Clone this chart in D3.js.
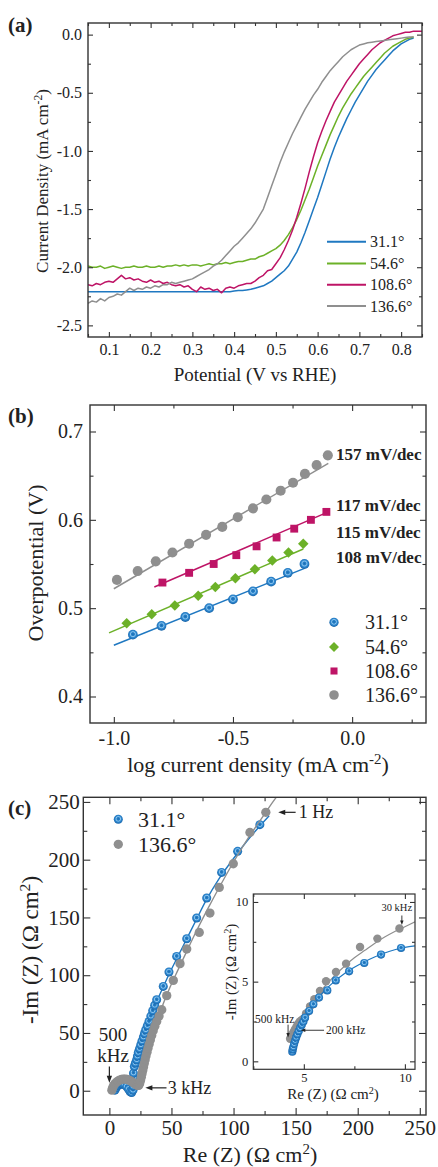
<!DOCTYPE html>
<html><head><meta charset="utf-8">
<script src="https://cdn.jsdelivr.net/npm/d3@7"></script>
<style>
body{margin:0;background:#fff}
svg{display:block}
text{font-family:"Liberation Serif","Times New Roman",Times,serif;fill:#222}
</style>
</head><body>
<svg id="c" width="438" height="1167"></svg>
<script>
// ---------------- DATA ----------------
const seriesNames = ["31.1°", "54.6°", "108.6°", "136.6°"];
const seriesColors = ["#1f78c1", "#6cb128", "#be1466", "#8f8f8f"];

// (a) LSV curves: potential (V vs RHE) and current density (mA cm-2)
const potential = [0.05,0.06,0.07,0.08,0.09,0.10,0.11,0.12,0.13,0.14,0.15,0.16,0.17,0.18,0.19,0.20,0.21,0.22,0.23,0.24,0.25,0.26,0.27,0.28,0.29,0.30,0.31,0.32,0.33,0.34,0.35,0.36,0.37,0.38,0.39,0.40,0.41,0.42,0.43,0.44,0.45,0.46,0.47,0.48,0.49,0.50,0.51,0.52,0.53,0.54,0.55,0.56,0.57,0.58,0.59,0.60,0.61,0.62,0.63,0.64,0.65,0.66,0.67,0.68,0.69,0.70,0.71,0.72,0.73,0.74,0.75,0.76,0.77,0.78,0.79,0.80,0.81,0.82,0.83,0.84,0.85];
const j31 = [-2.21,-2.21,-2.21,-2.21,-2.21,-2.21,-2.21,-2.21,-2.21,-2.21,-2.21,-2.21,-2.21,-2.21,-2.21,-2.21,-2.21,-2.21,-2.21,-2.21,-2.21,-2.21,-2.21,-2.21,-2.21,-2.21,-2.21,-2.21,-2.21,-2.21,-2.21,-2.21,-2.21,-2.21,-2.21,-2.205,-2.20,-2.20,-2.195,-2.19,-2.18,-2.17,-2.16,-2.14,-2.12,-2.09,-2.06,-2.03,-1.99,-1.93,-1.87,-1.79,-1.70,-1.60,-1.50,-1.40,-1.29,-1.18,-1.07,-0.97,-0.88,-0.80,-0.72,-0.65,-0.58,-0.52,-0.46,-0.40,-0.35,-0.30,-0.26,-0.22,-0.18,-0.14,-0.11,-0.08,-0.06,-0.04,-0.03];
const j54 = [-1.99,-2.00,-2.00,-1.99,-2.01,-2.00,-1.99,-2.00,-2.01,-2.00,-2.00,-1.99,-2.00,-2.00,-1.99,-2.00,-2.00,-1.99,-2.00,-1.99,-1.99,-1.98,-1.99,-1.98,-1.99,-1.98,-1.98,-1.99,-1.98,-1.97,-1.98,-1.97,-1.97,-1.96,-1.97,-1.96,-1.95,-1.95,-1.94,-1.93,-1.93,-1.91,-1.90,-1.88,-1.86,-1.84,-1.81,-1.77,-1.72,-1.66,-1.59,-1.51,-1.42,-1.33,-1.23,-1.13,-1.04,-0.95,-0.86,-0.78,-0.70,-0.63,-0.57,-0.51,-0.46,-0.41,-0.36,-0.32,-0.28,-0.24,-0.20,-0.16,-0.13,-0.10,-0.08,-0.06,-0.04,-0.03,-0.02];
const j108 = [-2.15,-2.16,-2.14,-2.15,-2.13,-2.12,-2.13,-2.10,-2.07,-2.10,-2.09,-2.11,-2.10,-2.12,-2.13,-2.11,-2.13,-2.12,-2.14,-2.13,-2.15,-2.16,-2.15,-2.17,-2.16,-2.19,-2.21,-2.17,-2.19,-2.18,-2.20,-2.19,-2.22,-2.18,-2.17,-2.18,-2.16,-2.15,-2.14,-2.14,-2.12,-2.09,-2.07,-2.03,-2.02,-1.97,-1.92,-1.85,-1.77,-1.68,-1.57,-1.45,-1.32,-1.18,-1.05,-0.93,-0.83,-0.74,-0.66,-0.58,-0.52,-0.46,-0.40,-0.35,-0.30,-0.25,-0.21,-0.17,-0.13,-0.10,-0.07,-0.05,-0.03,-0.01,0.00,0.01,0.02,0.02,0.03,0.03,0.03];
const j136 = [-2.31,-2.29,-2.30,-2.27,-2.29,-2.26,-2.25,-2.23,-2.24,-2.21,-2.18,-2.20,-2.18,-2.19,-2.17,-2.18,-2.16,-2.17,-2.15,-2.15,-2.13,-2.14,-2.13,-2.12,-2.11,-2.10,-2.08,-2.06,-2.04,-2.02,-1.99,-1.97,-1.94,-1.90,-1.86,-1.82,-1.79,-1.75,-1.71,-1.67,-1.62,-1.56,-1.50,-1.40,-1.30,-1.20,-1.10,-1.01,-0.93,-0.85,-0.78,-0.71,-0.64,-0.58,-0.52,-0.47,-0.41,-0.36,-0.31,-0.27,-0.23,-0.19,-0.16,-0.13,-0.11,-0.09,-0.08,-0.07,-0.065,-0.06,-0.055,-0.05,-0.045,-0.04,-0.035,-0.03,-0.025,-0.02,-0.02];

// (b) Tafel data: log current density, overpotential
const tafelX31 = [-0.92,-0.80,-0.70,-0.60,-0.50,-0.416,-0.34,-0.27,-0.20];
const tafelY31 = [0.470,0.480,0.490,0.500,0.510,0.519,0.530,0.540,0.550];
const tafelX54 = [-0.946,-0.841,-0.744,-0.646,-0.574,-0.49,-0.408,-0.335,-0.267,-0.205];
const tafelY54 = [0.483,0.493,0.503,0.514,0.524,0.534,0.544,0.554,0.563,0.573];
const tafelX108 = [-0.796,-0.684,-0.581,-0.486,-0.401,-0.317,-0.243,-0.173,-0.108];
const tafelY108 = [0.529,0.540,0.550,0.560,0.570,0.580,0.590,0.600,0.609];
const tafelX136 = [-0.987,-0.90,-0.824,-0.754,-0.684,-0.613,-0.545,-0.480,-0.416,-0.360,-0.300,-0.248,-0.198,-0.149,-0.102];
const tafelY136 = [0.532,0.542,0.553,0.563,0.573,0.583,0.592,0.603,0.613,0.623,0.633,0.642,0.652,0.662,0.673];
const fit31 = [[-1.0,0.458],[-0.2,0.545]];
const fit54 = [[-1.02,0.472],[-0.205,0.567]];
const fit108 = [[-0.83,0.524],[-0.1,0.609]];
const fit136 = [[-1.0,0.522],[-0.1,0.664]];
const slopeLabels = ["108 mV/dec","115 mV/dec","117 mV/dec","157 mV/dec"];

// (c) Nyquist data [Re, -Im]
const nyq31 = [[4.5,0.5],[5.5,2.8],[7,4.5],[8.7,5.5],[10.5,5.8],[12.3,5.2],[14,3.5],[15.5,1.2],[16.8,-1],[18,-1.5],[19,0.5],[19.3,4],[19.4,8],[19.4,11.5],[19.4,15.3],[20.1,21],[21,24],[22,26.8],[22.6,30],[23.3,33.2],[24.3,36.5],[25.3,39.8],[26.3,43.2],[27.4,46.5],[28.3,49.6],[29.3,52.8],[30.6,56.4],[31.9,60],[33.4,64.6],[34.9,69.3],[36.5,74],[38.1,78.8],[43.4,90.3],[48,102.8],[54.2,116.3],[62.3,131.6],[70.3,149.5],[78.4,166.8],[90.4,189],[103.3,207.2],[121.2,230.3]];
const nyq136 = [[2,0.5],[2.6,2.6],[3.4,4.4],[4.4,6],[5.6,7.3],[6.9,8.4],[8.3,9.2],[9.8,9.8],[11.3,10.1],[12.8,10.1],[14.3,9.8],[15.8,9.2],[17.3,8.4],[18.7,7.4],[20.1,6.3],[21.4,5.3],[22.6,4.6],[23.6,4.6],[24.4,6.2],[25.1,8.8],[25.7,11.6],[26.3,14.6],[26.9,17.6],[27.5,20.6],[28.1,23.6],[28.8,26.8],[29.5,30],[30.3,33.4],[31.1,36.8],[32,40.3],[33,44],[34.1,47.9],[35.3,51.9],[36.6,55.9],[38.1,60],[40,64.6],[42.2,70.1],[46.2,82.3],[51.5,95.5],[56.9,110],[62.3,122.7],[72.4,137],[81,153.8],[88.5,176],[99.8,196.5],[113.2,223.6],[126,241]];
const nyqFit31 = [[4.3,0],[5.5,2.8],[7,4.5],[8.7,5.4],[10.5,5.7],[12.3,5.1],[14,3.5],[15.5,1.2],[16.8,-0.8],[18,-0.5],[18.8,2.5],[19.3,8],[19.8,15],[20.8,22],[22.3,29],[24.3,37],[26.8,46],[29.8,55],[33.3,65],[38,77],[43,89],[49,103],[56,118],[63,133],[70,148],[78,165],[88,183],[100,201],[113,219],[128.7,238]];
const nyqFit136 = [[2,0],[3,3.5],[5,6.6],[8,8.9],[11,9.9],[14,9.7],[17,8.4],[20,6.4],[22.5,4.8],[24,5.2],[25,8],[26,12.5],[27.5,19],[29,25.5],[31,34],[33.5,43.5],[36.5,54],[40,65],[44,77],[49,90],[55,104],[62,120],[70,138],[79,157],[89,177],[100,198],[112,219],[124,238],[133,252],[136,256]];
// inset (zoom of high-frequency region)
const ins31 = [[4.43,0.6],[4.45,0.75],[4.48,0.9],[4.52,1.1],[4.57,1.3],[4.62,1.5],[4.68,1.7],[4.75,1.9],[4.82,2.1],[4.9,2.3],[4.98,2.5],[5.06,2.74],[5.26,3.16],[5.47,3.58],[5.75,4.0],[6.16,4.45],[6.58,5.08],[7.24,5.65],[7.99,6.17],[8.82,6.70],[9.81,7.11]];
const ins136 = [[4.32,1.42],[4.38,1.58],[4.44,1.72],[4.5,1.86],[4.56,2.0],[4.62,2.13],[4.68,2.26],[4.75,2.4],[4.82,2.52],[4.9,2.6],[4.98,2.68],[5.11,3.0],[5.31,3.45],[5.52,3.89],[5.8,4.41],[6.1,5.02],[6.59,5.61],[7.09,6.13],[7.78,7.17],[8.64,7.70],[9.73,8.33]];
const insFit31 = [[4.4,0.55],[4.7,1.6],[5.0,2.5],[5.5,3.6],[6.0,4.4],[6.5,5.0],[7.0,5.5],[7.5,5.9],[8.0,6.25],[8.5,6.55],[9.0,6.8],[9.5,7.0],[10.0,7.15],[10.5,7.25]];
const insFit136 = [[4.3,1.3],[4.6,2.1],[5.0,2.9],[5.5,3.85],[6.0,4.65],[6.5,5.35],[7.0,5.95],[7.5,6.5],[8.0,6.95],[8.5,7.4],[9.0,7.8],[9.5,8.15],[10.0,8.45],[10.5,8.75]];

// ticks
const aXMajor=[0.1,0.2,0.3,0.4,0.5,0.6,0.7,0.8], aXMinor=[0.05,0.15,0.25,0.35,0.45,0.55,0.65,0.75,0.85];
const aYMajor=[0,-0.5,-1.0,-1.5,-2.0,-2.5], aYMinor=[-0.25,-0.75,-1.25,-1.75,-2.25];
const bXMajor=[-1.0,-0.5,0.0], bXMinor=[-0.75,-0.25,0.25];
const bYMajor=[0.4,0.5,0.6,0.7], bYMinor=[0.45,0.55,0.65];
const cXMajor=[0,50,100,150,200,250], cXMinor=[25,75,125,175,225];
const cYMajor=[0,50,100,150,200,250], cYMinor=[25,75,125,175,225];
const iXMajor=[5,10], iXMinor=[2.5,7.5];
const iYMajor=[0,5,10], iYMinor=[2.5,7.5];

// ---------------- DRAW ----------------
const svg = d3.select("#c");
const defs = svg.append("defs");
const grad = defs.append("radialGradient").attr("id","sph").attr("cx","0.5").attr("cy","0.45").attr("r","0.55");
grad.append("stop").attr("offset","0").attr("stop-color","#1a6cb2");
grad.append("stop").attr("offset","0.3").attr("stop-color","#2a82c8");
grad.append("stop").attr("offset","0.45").attr("stop-color","#8ec5ee");
grad.append("stop").attr("offset","0.62").attr("stop-color","#2f8ad2");
grad.append("stop").attr("offset","1").attr("stop-color","#1762a6");

function frame(xs, ys, o) {
  const [x0,x1] = xs.range(), [y0,y1] = ys.range();
  const g = svg.append("g");
  const style = (sel, labels) => {
    sel.select(".domain").remove();
    sel.attr("font-family",null).attr("font-size",null).attr("color","#333");
    sel.selectAll("line").attr("stroke-width",1.1);
    if (labels) sel.selectAll("text").style("font-size",o.fs+"px").attr("fill","#222");
  };
  const fmt = o.fmt || (d=>d);
  g.append("g").attr("transform",`translate(0,${y0})`).call(d3.axisBottom(xs).tickValues(o.xMajor).tickSize(-o.L).tickPadding(o.xpad).tickFormat(fmt)).call(s=>style(s,true));
  g.append("g").attr("transform",`translate(0,${y0})`).call(d3.axisBottom(xs).tickValues(o.xMinor).tickSize(-o.l).tickFormat("")).call(s=>style(s,false));
  g.append("g").attr("transform",`translate(0,${y1})`).call(d3.axisTop(xs).tickValues(o.xMajor).tickSize(-o.L).tickFormat("")).call(s=>style(s,false));
  g.append("g").attr("transform",`translate(0,${y1})`).call(d3.axisTop(xs).tickValues(o.xMinor).tickSize(-o.l).tickFormat("")).call(s=>style(s,false));
  g.append("g").attr("transform",`translate(${x0},0)`).call(d3.axisLeft(ys).tickValues(o.yMajor).tickSize(-o.L).tickPadding(o.ypad).tickFormat(o.yfmt||fmt)).call(s=>style(s,true));
  g.append("g").attr("transform",`translate(${x0},0)`).call(d3.axisLeft(ys).tickValues(o.yMinor).tickSize(-o.l).tickFormat("")).call(s=>style(s,false));
  g.append("g").attr("transform",`translate(${x1},0)`).call(d3.axisRight(ys).tickValues(o.yMajor).tickSize(-o.L).tickFormat("")).call(s=>style(s,false));
  g.append("g").attr("transform",`translate(${x1},0)`).call(d3.axisRight(ys).tickValues(o.yMinor).tickSize(-o.l).tickFormat("")).call(s=>style(s,false));
  g.append("rect").attr("x",x0).attr("y",y1).attr("width",x1-x0).attr("height",y0-y1).attr("fill","none").attr("stroke","#333").attr("stroke-width",o.sw||1.4);
  return g;
}
function richText(parent, x, y, parts, fs, opts={}) {
  const t = parent.append("text").attr("x",x).attr("y",y).style("font-size",fs+"px");
  if (opts.anchor) t.attr("text-anchor",opts.anchor);
  if (opts.rotate) t.attr("transform",`rotate(-90,${x},${y})`);
  if (opts.weight) t.style("font-weight",opts.weight);
  if (opts.fill) t.attr("fill",opts.fill);
  parts.forEach(p => {
    if (typeof p === "string") t.append("tspan").text(p);
    else t.append("tspan").attr("baseline-shift","super").style("font-size",(fs*0.68)+"px").text(p.sup);
  });
  return t;
}
function clip(id, xs, ys) {
  const [x0,x1]=xs.range(),[y0,y1]=ys.range();
  defs.append("clipPath").attr("id",id).append("rect").attr("x",x0).attr("y",y1).attr("width",x1-x0).attr("height",y0-y1);
  return `url(#${id})`;
}
function arrow(g, x1, y1, x2, y2, size, sw) {
  const ang = Math.atan2(y2-y1, x2-x1);
  g.append("line").attr("x1",x1).attr("y1",y1).attr("x2",x2-Math.cos(ang)*size*0.8).attr("y2",y2-Math.sin(ang)*size*0.8).attr("stroke","#222").attr("stroke-width",sw);
  const p = [[x2,y2],[x2-Math.cos(ang)*size-Math.sin(ang)*size*0.38, y2-Math.sin(ang)*size+Math.cos(ang)*size*0.38],[x2-Math.cos(ang)*size+Math.sin(ang)*size*0.38, y2-Math.sin(ang)*size-Math.cos(ang)*size*0.38]];
  g.append("path").attr("d","M"+p.map(q=>q.join(",")).join("L")+"Z").attr("fill","#222");
}

// ===== Panel (a) =====
const xA = d3.scaleLinear([0.05,0.85],[88,422]);
const yA = d3.scaleLinear([-2.6,0.1],[337,23]);
const gA = svg.append("g").attr("clip-path", clip("clipA",xA,yA));
const lineA = d3.line().x(d=>xA(d[0])).y(d=>yA(d[1]));
[j31,j54,j108,j136].forEach((arr,i) => {
  const pts = arr.map((v,k)=>[potential[k], v]);
  gA.append("path").attr("d",lineA(pts)).attr("fill","none").attr("stroke",seriesColors[i]).attr("stroke-width",1.5).attr("stroke-linejoin","round");
});
frame(xA,yA,{xMajor:aXMajor,xMinor:aXMinor,yMajor:aYMajor,yMinor:aYMinor,L:5,l:3,fs:16,xpad:7,ypad:6,fmt:d=>d.toFixed(1)});
const legA = svg.append("g");
[241.7,263.5,284.7,306].forEach((y,i)=>{
  legA.append("line").attr("x1",327).attr("x2",366).attr("y1",y).attr("y2",y).attr("stroke",seriesColors[i]).attr("stroke-width",2);
  legA.append("text").attr("x",370).attr("y",y+5.5).style("font-size","16px").text(seriesNames[i]);
});
richText(svg, 255, 381, ["Potential (V vs RHE)"], 19, {anchor:"middle"});
richText(svg, 48, 181, ["Current Density (mA cm",{sup:"-2"},")"], 17, {anchor:"middle",rotate:true});
richText(svg, 8, 32, ["(a)"], 21, {weight:"bold"});

// ===== Panel (b) =====
const xB = d3.scaleLinear([-1.1,0.31],[90,426]);
const yB = d3.scaleLinear([0.37,0.73],[723,405]);
const gB = svg.append("g").attr("clip-path", clip("clipB",xB,yB));
const lineB = d3.line().x(d=>xB(d[0])).y(d=>yB(d[1]));
[fit31,fit54,fit108,fit136].forEach((f,i)=>{
  gB.append("path").attr("d",lineB(f)).attr("fill","none").attr("stroke",seriesColors[i]).attr("stroke-width",1.5);
});
const sym = [d3.symbolCircle, d3.symbolSquare, d3.symbolSquare, d3.symbolCircle];
const symSize = [75, 55, 62, 80];
const symRot = ["", " rotate(45)", "", ""];
function drawMarkers(g, pts, i, xs, ys, sizeMul=1) {
  g.selectAll(null).data(pts).join("path")
    .attr("transform",d=>`translate(${xs(d[0])},${ys(d[1])})`+symRot[i])
    .attr("d",d3.symbol(sym[i], symSize[i]*sizeMul))
    .attr("fill", i===0 ? "url(#sph)" : seriesColors[i]);
}
[[tafelX31,tafelY31],[tafelX54,tafelY54],[tafelX108,tafelY108],[tafelX136,tafelY136]].forEach(([xs,ys],i)=>{
  drawMarkers(gB, xs.map((x,k)=>[x,ys[k]]), i, xB, yB);
});
frame(xB,yB,{xMajor:bXMajor,xMinor:bXMinor,yMajor:bYMajor,yMinor:bYMinor,L:6,l:3.5,fs:20,xpad:8,ypad:7,fmt:d=>d.toFixed(1)});
[[563,0],[538,1],[510.5,2],[460,3]].forEach(([y,i])=>{
  svg.append("text").attr("x",336).attr("y",y).style("font-size","17px").style("font-weight","bold").attr("fill",seriesColors[i]).text(slopeLabels[i]);
});
const legB = svg.append("g");
[622.3,647,671,695].forEach((y,i)=>{
  legB.append("path").attr("transform",`translate(334,${y})`+symRot[i]).attr("d",d3.symbol(sym[i], symSize[i]*(i===2?0.8:0.9))).attr("fill", i===0?"url(#sph)":seriesColors[i]);
  legB.append("text").attr("x",365).attr("y",y+7).style("font-size","20px").text(seriesNames[i]);
});
richText(svg, 258, 772, ["log current density (mA cm",{sup:"-2"},")"], 22, {anchor:"middle"});
richText(svg, 43, 563, ["Overpotential (V)"], 22, {anchor:"middle",rotate:true});
richText(svg, 8, 423, ["(b)"], 21, {weight:"bold"});

// ===== Panel (c) =====
const xC = d3.scaleLinear([-21,255],[83.3,426]);
const yC = d3.scaleLinear([-21,254],[1115,797.3]);
const gC = svg.append("g").attr("clip-path", clip("clipC",xC,yC));
const lineC = d3.line().x(d=>xC(d[0])).y(d=>yC(d[1])).curve(d3.curveCatmullRom);
gC.append("path").attr("d",lineC(nyqFit31)).attr("fill","none").attr("stroke",seriesColors[0]).attr("stroke-width",1.4);
drawMarkers(gC, nyq31, 0, xC, yC, 0.85);
gC.append("path").attr("d",lineC(nyqFit136)).attr("fill","none").attr("stroke",seriesColors[3]).attr("stroke-width",1.4);
drawMarkers(gC, nyq136, 3, xC, yC, 0.85);
frame(xC,yC,{xMajor:cXMajor,xMinor:cXMinor,yMajor:cYMajor,yMinor:cYMinor,L:7,l:4,fs:21,xpad:5.5,ypad:3.5,fmt:d=>d});
const annC = svg.append("g");
arrow(annC, xC(150), yC(241), xC(136), yC(241), 7, 1.2);
annC.append("text").attr("x",xC(152.5)).attr("y",yC(241)+6).style("font-size","18px").text("1 Hz");
annC.append("text").attr("x",113).attr("y",1041).attr("text-anchor","middle").style("font-size","19px").text("500");
annC.append("text").attr("x",113).attr("y",1062).attr("text-anchor","middle").style("font-size","19px").text("kHz");
arrow(annC, xC(0), yC(21), xC(0), yC(7), 7, 1.2);
arrow(annC, xC(46), yC(2.5), xC(29), yC(2.5), 7, 1.2);
annC.append("text").attr("x",xC(47)).attr("y",yC(2.5)+6.5).style("font-size","18px").text("3 kHz");
const legC = svg.append("g");
[[819.3,0],[844.3,3]].forEach(([y,i])=>{
  legC.append("path").attr("transform",`translate(118.3,${y})`).attr("d",d3.symbol(sym[i], symSize[i]*0.85)).attr("fill", i===0?"url(#sph)":seriesColors[i]);
  legC.append("text").attr("x",138).attr("y",y+7.5).style("font-size","22px").text(seriesNames[i]);
});
richText(svg, 250, 1162, ["Re (Z) (Ω cm",{sup:"2"},")"], 22, {anchor:"middle"});
richText(svg, 38, 950, ["-Im (Z) (Ω cm",{sup:"2"},")"], 23, {anchor:"middle",rotate:true});
richText(svg, 8, 815, ["(c)"], 21, {weight:"bold"});

// ----- inset -----
const xI = d3.scaleLinear([2.5,10.5],[253.3,415]);
const yI = d3.scaleLinear([-0.5,10.5],[1069.3,894]);
svg.append("rect").attr("x",253.3).attr("y",894).attr("width",415-253.3).attr("height",1069.3-894).attr("fill","#fff");
const gI = svg.append("g").attr("clip-path", clip("clipI",xI,yI));
const lineI = d3.line().x(d=>xI(d[0])).y(d=>yI(d[1])).curve(d3.curveCatmullRom);
gI.append("path").attr("d",lineI(insFit136)).attr("fill","none").attr("stroke",seriesColors[3]).attr("stroke-width",1.2);
drawMarkers(gI, ins136, 3, xI, yI, 0.7);
gI.append("path").attr("d",lineI(insFit31)).attr("fill","none").attr("stroke",seriesColors[0]).attr("stroke-width",1.2);
drawMarkers(gI, ins31, 0, xI, yI, 0.7);
frame(xI,yI,{xMajor:iXMajor,xMinor:iXMinor,yMajor:iYMajor,yMinor:iYMinor,L:5,l:3,fs:12.5,xpad:4,ypad:5,fmt:d=>d,sw:1.2});
const annI = svg.append("g");
annI.append("text").attr("x",xI(9.6)).attr("y",yI(9.45)).attr("text-anchor","middle").style("font-size","10.5px").text("30 kHz");
arrow(annI, xI(9.85), yI(9.15), xI(9.85), yI(8.55), 4.5, 0.9);
annI.append("text").attr("x",255).attr("y",1023).style("font-size","11.5px").text("500 kHz");
arrow(annI, xI(4.22), yI(2.3), xI(4.22), yI(1.5), 4.5, 0.9);
arrow(annI, xI(6.0), yI(1.95), xI(4.85), yI(1.95), 4.5, 0.9);
annI.append("text").attr("x",xI(6.1)).attr("y",yI(1.95)+4).style("font-size","11.5px").text("200 kHz");
richText(svg, 333, 1099, ["Re (Z) (Ω cm",{sup:"2"},")"], 15, {anchor:"middle"});
richText(svg, 236, 972, ["-Im (Z) (Ω cm",{sup:"2"},")"], 15, {anchor:"middle",rotate:true});
</script>
</body></html>
